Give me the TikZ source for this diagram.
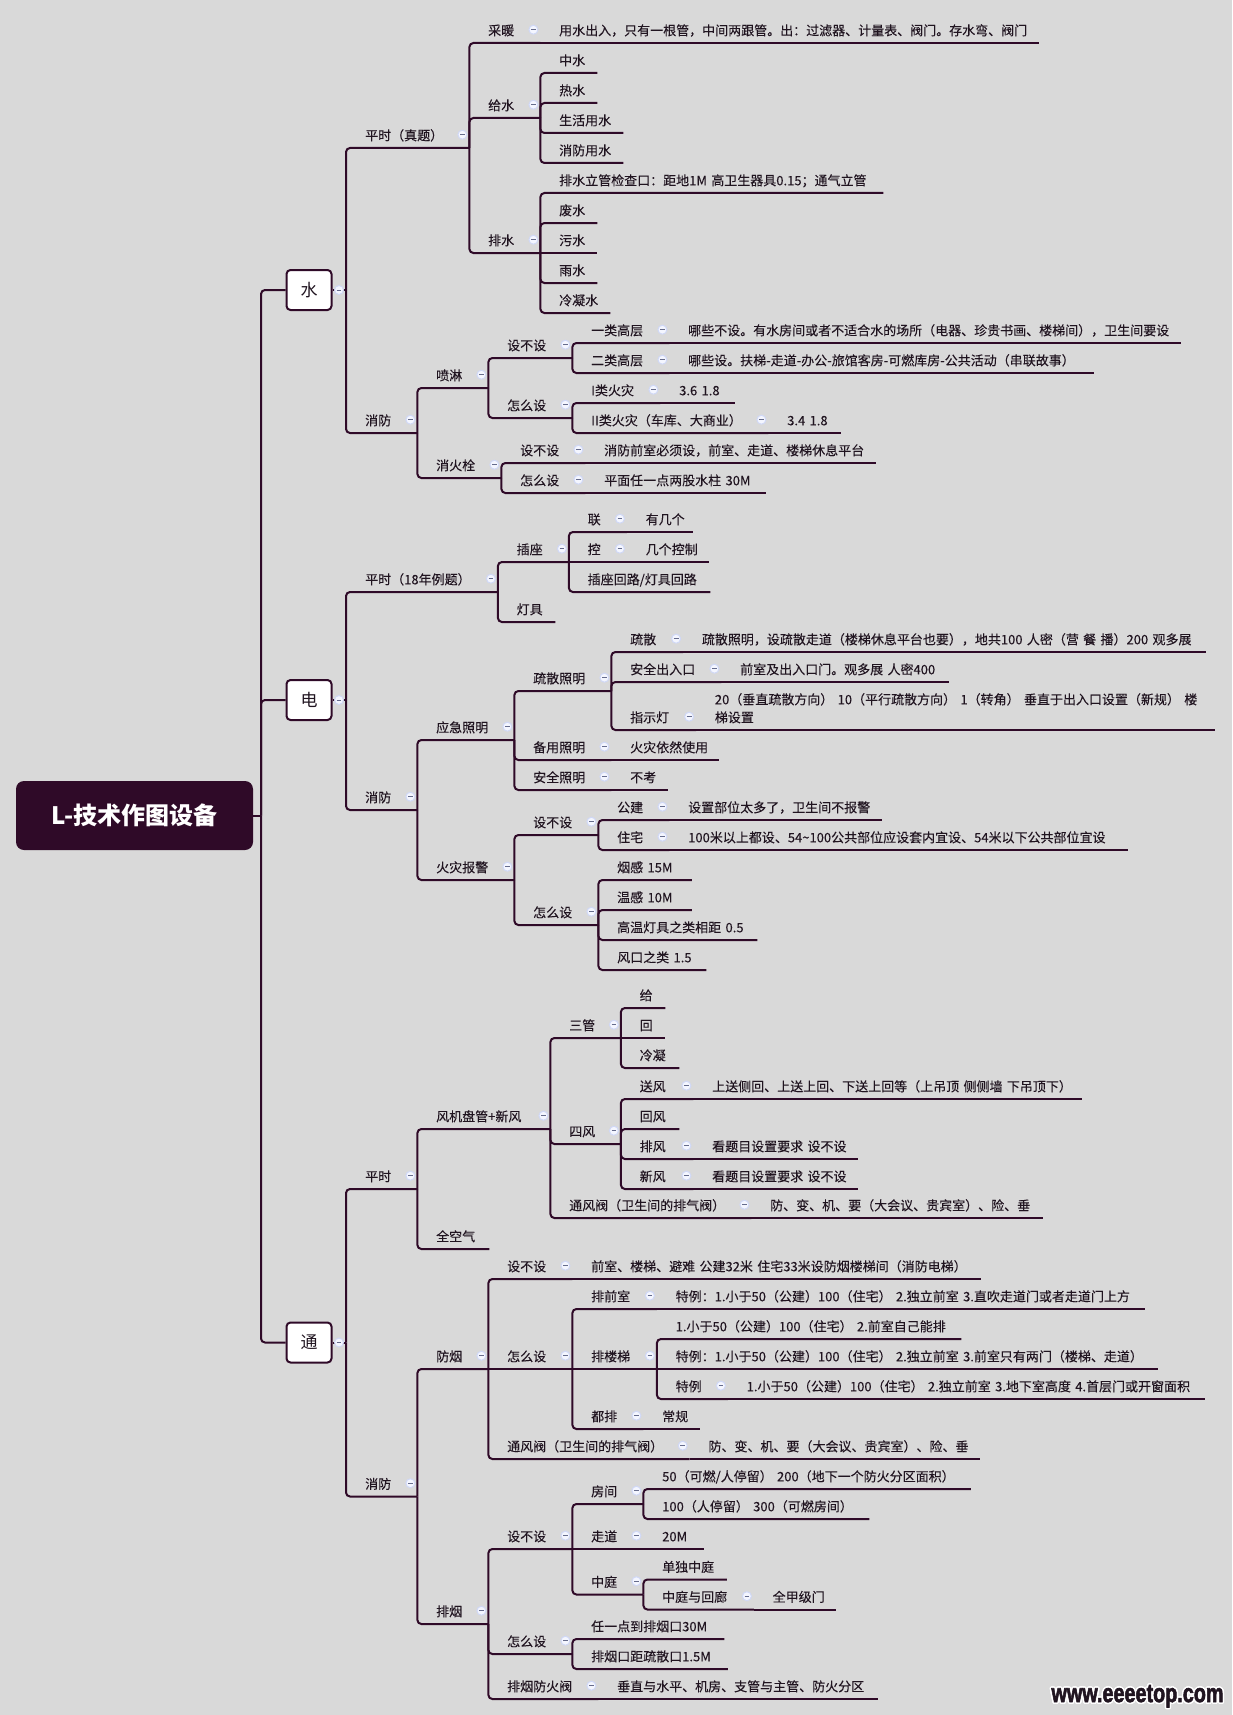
\documentclass[tikz,border=0pt]{standalone}
\usepackage{fontspec}
\setmainfont{Noto Sans CJK SC}
\newfontfamily\rowfont[FakeBold=0.08]{Noto Sans CJK SC}
\newfontfamily\markfont[FakeBold=2.5]{Liberation Sans}
\usepackage[copies]{contour}
\usetikzlibrary{positioning}
\definecolor{plum}{HTML}{2F0A28}
\definecolor{inkc}{HTML}{201420}
\definecolor{paper}{HTML}{D9D9D9}
\definecolor{btnc}{HTML}{F4F6FF}
\definecolor{btnr}{HTML}{D0D8F6}
\definecolor{btnm}{HTML}{666C8C}

\begin{document}
\begin{tikzpicture}[
    x=1pt, y=-1pt,
    branch/.style={draw=plum, line width=2pt, rounded corners=4pt},
    topic/.style={
        anchor=south west, inner sep=0pt, text=inkc, align=left,
        text width=#1pt, text height=19pt, text depth=7.5pt,
        font=\rowfont\fontsize{13}{18}\selectfont,
        execute at begin node={\exhyphenpenalty=10000 \hspace*{19pt}}
    },
    btn/.style={
        circle, fill=btnc, draw=btnr, line width=1pt,
        minimum size=9pt, inner sep=0pt,
        path picture={\draw[btnm, line width=1pt]
            ([xshift=-2.4pt]path picture bounding box.center) --
            ([xshift=2.4pt]path picture bounding box.center);}
    },
    topicb/.style={
        topic=#1,
        append after command={node[btn] (\tikzlastnode-b)
            at ([shift={(-7pt,13.3pt)}]\tikzlastnode.south east) {}}
    },
    mainbox/.style={
        rectangle, draw=plum, fill=white, rounded corners=4pt, line width=2pt,
        minimum width=45pt, minimum height=40pt, inner sep=0pt, text=inkc,
        font=\fontsize{17}{20}\selectfont
    },
    rootbox/.style={
        rectangle, fill=plum, rounded corners=8pt, text=white,
        minimum width=237pt, minimum height=69pt, inner sep=0pt,
        font=\fontsize{24}{30}\selectfont\bfseries
    },
]

\fill[paper] (0,0) rectangle (1232,1715);
\useasboundingbox (0,0) rectangle (1232,1715);

\node[rootbox] (root) at (134.5,815.5) {L-技术作图设备};
\coordinate (trunk) at (261,815.5);

\node[mainbox] (shui) at (309,290) {水};
\node[mainbox] (dian) at (309,700) {电};
\node[mainbox] (tong) at (309,1342.5) {通};
\coordinate (shuit) at (346,290);
\coordinate (diant) at (346,700);
\coordinate (tongt) at (346,1342.5);

% shui
\node[topicb=123] (sping) at (346,148) {平时（真题）};
\node[topicb=71] (cainuan) at (469,43) {采暖};
\node[topic=499] (cainuanv) at (540,43) {用水出入，只有一根管，中间两跟管。出：过滤器、计量表、阀门。存水弯、阀门};
\node[topicb=71] (geishui) at (469,118) {给水};
\node[topic=57] (zhongshui) at (540,73) {中水};
\node[topic=57] (reshui) at (540,103) {热水};
\node[topic=83] (shenghuo) at (540,133) {生活用水};
\node[topic=83] (xfyongshui) at (540,163) {消防用水};
\node[topicb=71] (paishui) at (469,253) {排水};
\node[topic=343] (jiancha) at (540,193) {排水立管检查口：距地1M~高卫生器具0.15；通气立管};
\node[topic=57] (feishui) at (540,223) {废水};
\node[topic=57] (wushui) at (540,253) {污水};
\node[topic=57] (yushui) at (540,283) {雨水};
\node[topic=70] (lengning) at (540,313) {冷凝水};

\node[topicb=71] (sxf) at (346,433) {消防};
\node[topicb=71] (penlin) at (417,388) {喷淋};
\node[topicb=84] (plshe) at (488,358) {设不设};
\node[topicb=97] (yilei) at (572,343) {一类高层};
\node[topic=512] (yileiv) at (669,343) {哪些不设。有水房间或者不适合水的场所（电器、珍贵书画、楼梯间），卫生间要设};
\node[topicb=97] (erlei) at (572,373) {二类高层};
\node[topic=425] (erleiv) at (669,373) {哪些设。扶梯-走道-办公-旅馆客房-可燃库房-公共活动（串联故事）};
\node[topicb=84] (plzen) at (488,418) {怎么设};
\node[topicb=88] (ilei) at (572,403) {I类火灾};
\node[topic=75] (ileiv) at (660,403) {3.6~1.8};
\node[topicb=196] (iilei) at (572,433) {II类火灾（车库、大商业）};
\node[topic=73] (iileiv) at (768,433) {3.4~1.8};
\node[topicb=84] (xhs) at (417,478) {消火栓};
\node[topicb=84] (xhshe) at (501,463) {设不设};
\node[topic=291] (xhshev) at (585,463) {消防前室必须设，前室、走道、楼梯休息平台};
\node[topicb=84] (xhzen) at (501,493) {怎么设};
\node[topic=181] (xhzenv) at (585,493) {平面任一点两股水柱~30M};

% dian
\node[topicb=151.5] (dping) at (346,592) {平时（18年例题）};
\node[topicb=71] (chazuo) at (497.5,562) {插座};
\node[topicb=58] (lian) at (568.5,532) {联};
\node[topic=66] (lianv) at (626.5,532) {有几个};
\node[topicb=58] (kong) at (568.5,562) {控};
\node[topic=82.5] (kongv) at (626.5,562) {几个控制};
\node[topic=141.5] (huilu) at (568.5,592) {插座回路/灯具回路};
\node[topic=57.5] (dengju) at (497.5,622) {灯具};

\node[topicb=71] (dxf) at (346,810) {消防};
\node[topicb=97] (yingji) at (417,740) {应急照明};
\node[topicb=97] (shusan) at (514,691) {疏散照明};
\node[topicb=71.7] (ssan) at (611,652) {疏散};
\node[topic=523.3] (ssanv) at (682.7,652) {疏散照明，设疏散走道（楼梯休息平台也要），地共100~人密（营~餐~播）200~观多展};
\node[topicb=110] (anquan) at (611,682) {安全出入口};
\node[topic=228] (anquanv) at (721,682) {前室及出入口门。观多展~人密400};
\node[topicb=84.7] (zhishi) at (611,730) {指示灯};
\node[topic=519.3, text depth=25.5pt] (zhishiv) at (695.7,730) {20（垂直疏散方向）~10（平行疏散方向）~1（转角）~垂直于出入口设置（新规）~楼\\\hspace*{19pt}梯设置};
\node[topicb=97] (beiyong) at (514,760) {备用照明};
\node[topic=108] (beiyongv) at (611,760) {火灾依然使用};
\node[topicb=97] (aqzm) at (514,790) {安全照明};
\node[topic=57] (aqzmv) at (611,790) {不考};
\node[topicb=97] (huozai) at (417,880) {火灾报警};
\node[topicb=84] (hzshe) at (514,835) {设不设};
\node[topicb=71] (gongjian) at (598,820) {公建};
\node[topic=213] (gongjianv) at (669,820) {设置部位太多了，卫生间不报警};
\node[topicb=71] (zhuzhai) at (598,850) {住宅};
\node[topic=459] (zhuzhaiv) at (669,850) {100米以上都设、54\textasciitilde 100公共部位应设套内宜设、54米以下公共部位宜设};
\node[topicb=84] (hzzen) at (514,925) {怎么设};
\node[topic=93.5] (yangan) at (598,880) {烟感~15M};
\node[topic=93.5] (wengan) at (598,910) {温感~10M};
\node[topic=159] (gaowen) at (598,940) {高温灯具之类相距~0.5};
\node[topic=108] (fengkou) at (598,970) {风口之类~1.5};

% tong
\node[topicb=71] (tping) at (346,1189) {平时};
\node[topicb=133] (fengji) at (417,1129) {风机盘管+新风};
\node[topicb=70.5] (sanguan) at (550,1038) {三管};
\node[topic=44.5] (gei) at (620.5,1008) {给};
\node[topic=44.5] (hui) at (620.5,1038) {回};
\node[topic=58.5] (lnguan) at (620.5,1068) {冷凝};
\node[topicb=70.5] (sifeng) at (550,1144) {四风};
\node[topicb=72.5] (songfeng) at (620.5,1099) {送风};
\node[topic=389] (songfengv) at (693,1099) {上送侧回、上送上回、下送上回等（上吊顶~侧侧墙~下吊顶下）};
\node[topic=58.5] (huifeng) at (620.5,1129) {回风};
\node[topicb=72.5] (paifeng) at (620.5,1159) {排风};
\node[topic=165] (paifengv) at (693,1159) {看题目设置要求~设不设};
\node[topicb=72.5] (xinfeng) at (620.5,1189) {新风};
\node[topic=165] (xinfengv) at (693,1189) {看题目设置要求~设不设};
\node[topicb=201] (tongfa) at (550,1218) {通风阀（卫生间的排气阀）};
\node[topic=292] (tongfav) at (751,1218) {防、变、机、要（大会议、贵宾室）、险、垂};
\node[topic=72] (quankong) at (417,1249) {全空气};

\node[topicb=71] (txf) at (346,1496.5) {消防};
\node[topicb=71] (fangyan) at (417,1369) {防烟};
\node[topicb=84] (fyshe) at (488,1279) {设不设};
\node[topic=409] (fyshev) at (572,1279) {前室、楼梯、避难~公建32米~住宅33米设防烟楼梯间（消防电梯）};
\node[topicb=84] (fyzen) at (488,1369) {怎么设};
\node[topicb=84.5] (qianshi) at (572,1309) {排前室};
\node[topic=488.5] (qianshiv) at (656.5,1309) {特例：1.小于50（公建）100（住宅）~2.独立前室~3.直吹走道门或者走道门上方};
\node[topicb=84.5] (louti) at (572,1369) {排楼梯};
\node[topic=304.5] (loutia) at (656.5,1339) {1.小于50（公建）100（住宅）~2.前室自己能排};
\node[topic=501] (loutib) at (656.5,1369) {特例：1.小于50（公建）100（住宅）~2.独立前室~3.前室只有两门（楼梯、走道）};
\node[topicb=71] (loutic) at (656.5,1399) {特例};
\node[topic=477.5] (louticv) at (727.5,1399) {1.小于50（公建）100（住宅）~2.独立前室~3.地下室高度~4.首层门或开窗面积};
\node[topicb=71] (doupai) at (572,1429) {都排};
\node[topic=56.7] (doupaiv) at (643,1429) {常规};
\node[topicb=201.3] (fyfa) at (488,1459) {通风阀（卫生间的排气阀）};
\node[topic=290.7] (fyfav) at (689.3,1459) {防、变、机、要（大会议、贵宾室）、险、垂};
\node[topicb=71] (paiyan) at (417,1624) {排烟};
\node[topicb=84] (pyshe) at (488,1549) {设不设};
\node[topicb=71] (fangjian) at (572,1504) {房间};
\node[topic=327.5] (fangjiana) at (643,1489) {50（可燃/人停留）~200（地下一个防火分区面积）};
\node[topic=226] (fangjianb) at (643,1519) {100（人停留）~300（可燃房间）};
\node[topicb=71] (zoudao) at (572,1549) {走道};
\node[topic=60.5] (zoudaov) at (643,1549) {20M};
\node[topicb=71] (zhongting) at (572,1594.5) {中庭};
\node[topic=83.5] (danzt) at (643,1579.5) {单独中庭};
\node[topicb=110.5] (huilang) at (643,1609.5) {中庭与回廊};
\node[topic=82.5] (huilangv) at (753.5,1609.5) {全甲级门};
\node[topicb=84] (pyzen) at (488,1654) {怎么设};
\node[topic=152] (renyi) at (572,1639) {任一点到排烟口30M};
\node[topic=155.5] (pkou) at (572,1669) {排烟口距疏散口1.5M};
\node[topicb=110] (pyfa) at (488,1699) {排烟防火阀};
\node[topic=279.5] (pyfav) at (598,1699) {垂直与水平、机房、支管与主管、防火分区};

% Connectors
\draw[branch] (root.east) -- (trunk);
\draw[branch] (trunk) |- (shui.west);
\draw[branch] (trunk) |- (dian.west);
\draw[branch] (trunk) |- (tong.west);
\draw[branch] (shui.east) -- (shuit);
\draw[branch] (dian.east) -- (diant);
\draw[branch] (tong.east) -- (tongt);

\draw[branch] (shuit) |- (sping.south east);
\draw[branch] (shuit) |- (sxf.south east);
\draw[branch] (sping.south east) |- (cainuan.south east);
\draw[branch] (cainuan.south east) -- (cainuanv.south east);
\draw[branch] (sping.south east) |- (geishui.south east);
\draw[branch] (geishui.south east) |- (zhongshui.south east);
\draw[branch] (geishui.south east) |- (reshui.south east);
\draw[branch] (geishui.south east) |- (shenghuo.south east);
\draw[branch] (geishui.south east) |- (xfyongshui.south east);
\draw[branch] (sping.south east) |- (paishui.south east);
\draw[branch] (paishui.south east) |- (jiancha.south east);
\draw[branch] (paishui.south east) |- (feishui.south east);
\draw[branch] (paishui.south east) -- (wushui.south east);
\draw[branch] (paishui.south east) |- (yushui.south east);
\draw[branch] (paishui.south east) |- (lengning.south east);
\draw[branch] (sxf.south east) |- (penlin.south east);
\draw[branch] (penlin.south east) |- (plshe.south east);
\draw[branch] (plshe.south east) |- (yilei.south east);
\draw[branch] (yilei.south east) -- (yileiv.south east);
\draw[branch] (plshe.south east) |- (erlei.south east);
\draw[branch] (erlei.south east) -- (erleiv.south east);
\draw[branch] (penlin.south east) |- (plzen.south east);
\draw[branch] (plzen.south east) |- (ilei.south east);
\draw[branch] (ilei.south east) -- (ileiv.south east);
\draw[branch] (plzen.south east) |- (iilei.south east);
\draw[branch] (iilei.south east) -- (iileiv.south east);
\draw[branch] (sxf.south east) |- (xhs.south east);
\draw[branch] (xhs.south east) |- (xhshe.south east);
\draw[branch] (xhshe.south east) -- (xhshev.south east);
\draw[branch] (xhs.south east) |- (xhzen.south east);
\draw[branch] (xhzen.south east) -- (xhzenv.south east);

\draw[branch] (diant) |- (dping.south east);
\draw[branch] (diant) |- (dxf.south east);
\draw[branch] (dping.south east) |- (chazuo.south east);
\draw[branch] (chazuo.south east) |- (lian.south east);
\draw[branch] (lian.south east) -- (lianv.south east);
\draw[branch] (chazuo.south east) -- (kong.south east);
\draw[branch] (kong.south east) -- (kongv.south east);
\draw[branch] (chazuo.south east) |- (huilu.south east);
\draw[branch] (dping.south east) |- (dengju.south east);
\draw[branch] (dxf.south east) |- (yingji.south east);
\draw[branch] (yingji.south east) |- (shusan.south east);
\draw[branch] (shusan.south east) |- (ssan.south east);
\draw[branch] (ssan.south east) -- (ssanv.south east);
\draw[branch] (shusan.south east) |- (anquan.south east);
\draw[branch] (anquan.south east) -- (anquanv.south east);
\draw[branch] (shusan.south east) |- (zhishi.south east);
\draw[branch] (zhishi.south east) -- (zhishiv.south east);
\draw[branch] (yingji.south east) |- (beiyong.south east);
\draw[branch] (beiyong.south east) -- (beiyongv.south east);
\draw[branch] (yingji.south east) |- (aqzm.south east);
\draw[branch] (aqzm.south east) -- (aqzmv.south east);
\draw[branch] (dxf.south east) |- (huozai.south east);
\draw[branch] (huozai.south east) |- (hzshe.south east);
\draw[branch] (hzshe.south east) |- (gongjian.south east);
\draw[branch] (gongjian.south east) -- (gongjianv.south east);
\draw[branch] (hzshe.south east) |- (zhuzhai.south east);
\draw[branch] (zhuzhai.south east) -- (zhuzhaiv.south east);
\draw[branch] (huozai.south east) |- (hzzen.south east);
\draw[branch] (hzzen.south east) |- (yangan.south east);
\draw[branch] (hzzen.south east) |- (wengan.south east);
\draw[branch] (hzzen.south east) |- (gaowen.south east);
\draw[branch] (hzzen.south east) |- (fengkou.south east);

\draw[branch] (tongt) |- (tping.south east);
\draw[branch] (tongt) |- (txf.south east);
\draw[branch] (tping.south east) |- (fengji.south east);
\draw[branch] (fengji.south east) |- (sanguan.south east);
\draw[branch] (sanguan.south east) |- (gei.south east);
\draw[branch] (sanguan.south east) -- (hui.south east);
\draw[branch] (sanguan.south east) |- (lnguan.south east);
\draw[branch] (fengji.south east) |- (sifeng.south east);
\draw[branch] (sifeng.south east) |- (songfeng.south east);
\draw[branch] (songfeng.south east) -- (songfengv.south east);
\draw[branch] (sifeng.south east) |- (huifeng.south east);
\draw[branch] (sifeng.south east) |- (paifeng.south east);
\draw[branch] (paifeng.south east) -- (paifengv.south east);
\draw[branch] (sifeng.south east) |- (xinfeng.south east);
\draw[branch] (xinfeng.south east) -- (xinfengv.south east);
\draw[branch] (fengji.south east) |- (tongfa.south east);
\draw[branch] (tongfa.south east) -- (tongfav.south east);
\draw[branch] (tping.south east) |- (quankong.south east);
\draw[branch] (txf.south east) |- (fangyan.south east);
\draw[branch] (fangyan.south east) |- (fyshe.south east);
\draw[branch] (fyshe.south east) -- (fyshev.south east);
\draw[branch] (fangyan.south east) -- (fyzen.south east);
\draw[branch] (fyzen.south east) |- (qianshi.south east);
\draw[branch] (qianshi.south east) -- (qianshiv.south east);
\draw[branch] (fyzen.south east) -- (louti.south east);
\draw[branch] (louti.south east) |- (loutia.south east);
\draw[branch] (louti.south east) -- (loutib.south east);
\draw[branch] (louti.south east) |- (loutic.south east);
\draw[branch] (loutic.south east) -- (louticv.south east);
\draw[branch] (fyzen.south east) |- (doupai.south east);
\draw[branch] (doupai.south east) -- (doupaiv.south east);
\draw[branch] (fangyan.south east) |- (fyfa.south east);
\draw[branch] (fyfa.south east) -- (fyfav.south east);
\draw[branch] (txf.south east) |- (paiyan.south east);
\draw[branch] (paiyan.south east) |- (pyshe.south east);
\draw[branch] (pyshe.south east) |- (fangjian.south east);
\draw[branch] (fangjian.south east) |- (fangjiana.south east);
\draw[branch] (fangjian.south east) |- (fangjianb.south east);
\draw[branch] (pyshe.south east) -- (zoudao.south east);
\draw[branch] (zoudao.south east) -- (zoudaov.south east);
\draw[branch] (pyshe.south east) |- (zhongting.south east);
\draw[branch] (zhongting.south east) |- (danzt.south east);
\draw[branch] (zhongting.south east) |- (huilang.south east);
\draw[branch] (huilang.south east) -- (huilangv.south east);
\draw[branch] (paiyan.south east) |- (pyzen.south east);
\draw[branch] (pyzen.south east) |- (renyi.south east);
\draw[branch] (pyzen.south east) |- (pkou.south east);
\draw[branch] (paiyan.south east) |- (pyfa.south east);
\draw[branch] (pyfa.south east) -- (pyfav.south east);

% Buttons on the connectors
\node[btn] (shui-b) at (339,290) {};
\node[btn] (dian-b) at (339,700) {};
\node[btn] (tong-b) at (339,1342.5) {};

\node[inner sep=0pt, text=inkc] (wmark) at (1137.5,1697) {\contourlength{1.5pt}\contour{white}{\resizebox{172pt}{17pt}{\markfont\bfseries www.eeeetop.com}}};

\end{tikzpicture}
\end{document}
